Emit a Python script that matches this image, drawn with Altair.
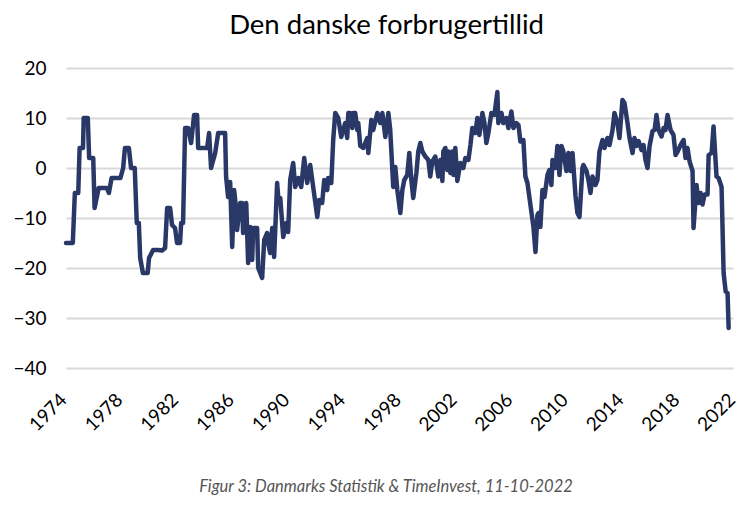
import altair as alt
import pandas as pd

# Den danske forbrugertillid
years = [
    1974.0, 1974.5, 1974.65, 1974.9, 1975.0, 1975.25, 1975.3, 1975.6, 1975.7, 1976.0,
    1976.1, 1976.4, 1977.0, 1977.15, 1977.35, 1978.0, 1978.2, 1978.33, 1978.62, 1978.78,
    1979.05, 1979.2, 1979.35, 1979.45, 1979.65, 1980.0, 1980.1, 1980.4, 1980.75, 1981.06,
    1981.28, 1981.43, 1981.65, 1981.79, 1982.01, 1982.16, 1982.38, 1982.46, 1982.6, 1982.75,
    1982.97, 1983.19, 1983.41, 1983.63, 1983.71, 1984.37, 1984.51, 1984.66, 1984.96, 1985.18,
    1985.69, 1985.76, 1985.91, 1986.06, 1986.21, 1986.35, 1986.43, 1986.57, 1986.79, 1986.94,
    1987.01, 1987.24, 1987.38, 1987.53, 1987.68, 1987.75, 1988.04, 1988.12, 1988.41, 1988.56,
    1988.78, 1988.85, 1989.0, 1989.15, 1989.29, 1989.51, 1989.59, 1989.74, 1989.88, 1989.96,
    1990.18, 1990.32, 1990.47, 1990.69, 1990.84, 1991.06, 1991.28, 1991.5, 1991.72, 1991.94,
    1992.16, 1992.46, 1992.6, 1992.82, 1992.97, 1993.19, 1993.26, 1993.49, 1993.63, 1993.78,
    1994.0, 1994.22, 1994.51, 1994.66, 1994.74, 1994.88, 1995.03, 1995.1, 1995.25, 1995.4,
    1995.47, 1995.62, 1995.84, 1996.13, 1996.21, 1996.43, 1996.57, 1996.87, 1997.09, 1997.24,
    1997.46, 1997.68, 1997.82, 1998.04, 1998.19, 1998.34, 1998.56, 1998.71, 1998.85, 1999.07,
    1999.22, 1999.37, 1999.51, 1999.74, 1999.88, 2000.03, 2000.18, 2000.4, 2000.62, 2000.76,
    2000.91, 2001.13, 2001.35, 2001.5, 2001.65, 2001.72, 2001.87, 2002.01, 2002.09, 2002.24,
    2002.38, 2002.46, 2002.6, 2002.75, 2002.97, 2003.19, 2003.34, 2003.56, 2003.71, 2003.85,
    2004.07, 2004.22, 2004.37, 2004.59, 2004.74, 2004.88, 2005.03, 2005.25, 2005.47, 2005.69,
    2005.76, 2005.99, 2006.13, 2006.35, 2006.5, 2006.72, 2006.87, 2007.09, 2007.24, 2007.38,
    2007.6, 2007.75, 2007.9, 2008.12, 2008.34, 2008.49, 2008.63, 2008.71, 2008.85, 2009.0,
    2009.15, 2009.37, 2009.51, 2009.66, 2009.74, 2009.96, 2010.1, 2010.25, 2010.4, 2010.54,
    2010.76, 2010.91, 2011.06, 2011.21, 2011.43, 2011.57, 2011.72, 2011.94, 2012.01, 2012.24,
    2012.38, 2012.53, 2012.68, 2012.9, 2013.04, 2013.19, 2013.41, 2013.56, 2013.78, 2013.93,
    2014.15, 2014.29, 2014.51, 2014.66, 2014.88, 2015.03, 2015.25, 2015.4, 2015.62, 2015.76,
    2015.91, 2016.06, 2016.28, 2016.43, 2016.57, 2016.72, 2016.87, 2017.09, 2017.24, 2017.38,
    2017.53, 2017.75, 2017.9, 2018.04, 2018.19, 2018.41, 2018.63, 2018.78, 2018.93, 2019.15,
    2019.37, 2019.51, 2019.66, 2019.81, 2020.03, 2020.1, 2020.32, 2020.47, 2020.62, 2020.76,
    2020.91, 2021.13, 2021.21, 2021.43, 2021.57, 2021.79, 2021.94, 2022.16, 2022.31, 2022.46,
    2022.6, 2022.68,
]
values = [
    -15, -15, -5, -5, 4, 4, 10, 10, 2, 2,
    -8, -4, -4, -5, -2, -2, 0, 4, 4, 0,
    0, -11, -11, -18, -21, -21, -18, -16.4, -16.4, -16.5,
    -16, -8, -8, -11.4, -12, -15, -15, -11, -11, 8,
    8, 5, 10.6, 10.6, 4, 4, 7, 0, 3, 7,
    7, -1.7, -5.8, -2.8, -15.8, -4.4, -6.4, -12.4, -7, -7,
    -13, -7, -19, -11.8, -18.4, -12, -12, -20, -22, -14.4,
    -13, -15, -17, -12, -17.8, -3, -5.8, -6, -11, -13.8,
    -11, -12.8, -2.4, 1, -3.8, -2, -3.8, 2, -3, 0.6,
    -3.8, -9.8, -6.4, -7, -2.4, -4.4, -2, -3, 5.6, 11,
    10, 6.2, 9, 6, 11, 11, 8, 11, 11, 7.6,
    9, 4.4, 4, 6, 3, 9.6, 7.6, 11, 9, 11,
    6.2, 11, 7.6, -3.8, 0.2, -4.4, -9, -4.4, -2.4, -1.4,
    3, -2.4, -6, -1, 3.3, 5, 3.3, 2.3, 1.6, -1.7,
    1.3, 2.3, -1.7, 1.6, -2.6, 3.3, 4, -0.4, 3.3, -1,
    3.3, -1.4, 4, -2.6, 1, 0, 2, 1.6, 4.6, 8,
    7, 10, 6.6, 11, 9, 5, 7, 11, 10.6, 15.2,
    9, 11, 9, 10, 8, 11.3, 8, 9, 8.6, 5.3,
    5.6, -1.7, -3, -7.4, -11.8, -16.8, -9.4, -9, -11.8, -4.4,
    -5.8, -1.4, -0.4, -3.4, 1.6, 0, 4.4, -1.4, 4.4, 3.3,
    -0.6, 3, -0.6, 3, -5.6, -9, -9.8, 0, 0.6, -0.6,
    -2.4, -5, -1.7, -3.4, -2.4, 3.3, 5.6, 4, 6, 4.6,
    7.6, 11, 9, 6, 13.6, 13, 9, 6, 3, 6,
    4.4, 5.4, 3.6, 4.6, 1.6, 0, 4.4, 7.4, 7.6, 10.6,
    7.6, 6.3, 8, 7.6, 10.6, 7.6, 6.6, 2.6, 3.3, 4.6,
    5.6, 2, 4, 1.3, -0.6, -12, -3.4, -7, -5, -7.3,
    -5.3, -5.3, 2.6, 3, 8.3, -1.7, -2, -3.8, -21, -24.7,
    -25, -32,
]
x_ticks = [1974, 1978, 1982, 1986, 1990, 1994, 1998, 2002, 2006, 2010, 2014, 2018, 2022]
y_ticks = [-40, -30, -20, -10, 0, 10, 20]
# label nudges (px) so the rotated year labels sit where the reference prints them
x_label_nudge = [-9, -7.75, -6.5, -5.25, -4, -2.75, -1.5, -0.25, 1, 2.25, 3.5, 4.75, 6]
title_text = "Den danske forbrugertillid"
caption_text = "Figur 3: Danmarks Statistik & TimeInvest, 11-10-2022"

df = pd.DataFrame({"year": years, "value": values})

label_offset = {
    "condition": [
        {"test": f"datum.value == {t}", "value": n} for t, n in zip(x_ticks, x_label_nudge)
    ],
    "value": 0,
}

line = alt.Chart(df).mark_line(
    color="#293867", strokeWidth=4.5, strokeJoin="round", strokeCap="round"
).encode(
    x=alt.X(
        "year:Q",
        scale=alt.Scale(domain=[1974, 2023], nice=False, zero=False),
        axis=alt.Axis(
            values=x_ticks, format="d", labelAngle=-45, grid=False, domain=False,
            ticks=False, labelFontSize=19, labelFont="Lato", labelColor="black",
            labelPadding=22, labelOffset=label_offset, title=None,
        ),
    ),
    y=alt.Y(
        "value:Q",
        scale=alt.Scale(domain=[-40, 20], nice=False),
        axis=alt.Axis(
            values=y_ticks, grid=True, gridColor="#D9D9D9", gridWidth=2,
            domain=False, ticks=False, labelFontSize=19, labelFont="Lato",
            labelColor="black", labelPadding=20, title=None,
        ),
    ),
)

caption = alt.Chart(pd.DataFrame({"t": [caption_text]})).mark_text(
    font="Lato", fontStyle="italic", fontWeight="normal", fontSize=16.5, color="#555555",
    align="center", baseline="middle",
).encode(text="t:N", x=alt.value(320), y=alt.value(419))

chart = alt.layer(line, caption).properties(
    width=667, height=300,
    title=alt.TitleParams(
        title_text, font="Lato", fontSize=27.5, fontWeight="normal", color="black",
        anchor="middle", offset=20, dx=-13,
    ),
    padding={"left": 58, "top": 60, "right": 9, "bottom": 135},
    autosize=alt.AutoSizeParams(type="none"),
).configure_view(stroke=None)

chart.save("out.html", embed_options={"renderer": "svg", "actions": False})
